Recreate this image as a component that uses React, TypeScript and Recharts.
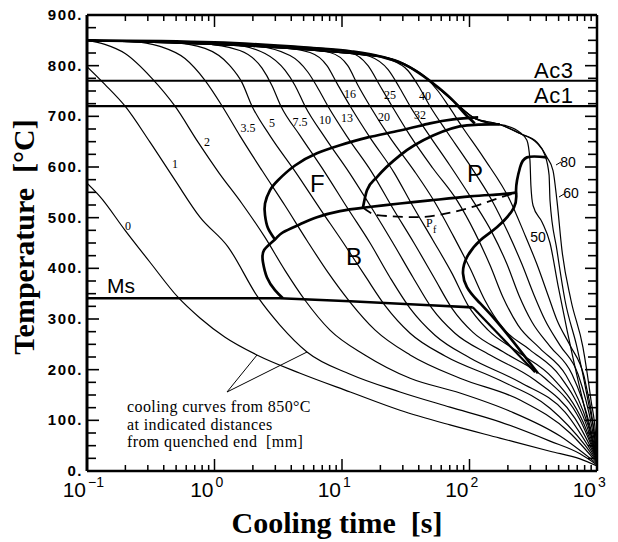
import React from "react"
import { LineChart, Line, XAxis, YAxis, ReferenceLine } from "recharts"

type Pt = { t: number; T: number }
const pts = (arr: number[][]): Pt[] => arr.map(([t, T]) => ({ t, T }))

// cooling curves, [time s, temperature °C], labelled by distance from quenched end (mm)
const curve0 = pts([[0.1, 568], [0.126, 542], [0.199, 475], [0.312, 412], [0.517, 343], [0.769, 302], [1.21, 264], [2.15, 229], [4.69, 193], [11.6, 156], [28.5, 120], [70.3, 91], [173, 65], [428, 39], [736, 24], [1000, 10]])
const curve1 = pts([[0.1, 798], [0.138, 763], [0.199, 720], [0.312, 649], [0.49, 574], [0.769, 501], [1.28, 442], [2.19, 343], [3.26, 288], [5.31, 235], [11.6, 191], [28.5, 156], [70.3, 126], [173, 97], [428, 59], [736, 34], [1000, 12]])
const curve2 = pts([[0.1, 850], [0.138, 842], [0.199, 824], [0.323, 775], [0.49, 720], [0.743, 649], [1.08, 589], [1.64, 528], [2.49, 461], [3.57, 396], [5.13, 337], [8.05, 278], [15.1, 229], [34.2, 183], [84.2, 154], [208, 118], [513, 69], [1000, 14]])
const curve3_5 = pts([[0.1, 850], [0.217, 848], [0.374, 838], [0.587, 814], [0.842, 771], [1.15, 720], [1.58, 662], [2.36, 593], [3.57, 524], [5.31, 455], [7.76, 392], [11.6, 333], [18.2, 278], [34.2, 229], [84.2, 183], [249, 140], [614, 75], [1000, 16]])
const curve5 = pts([[0.1, 850], [0.448, 846], [0.842, 834], [1.32, 800], [1.64, 767], [1.97, 720], [2.72, 662], [4.35, 589], [6.71, 518], [10.2, 451], [15.1, 386], [21.7, 327], [34.2, 272], [64.3, 227], [173, 179], [428, 124], [805, 51], [1000, 18]])
const curve7_5 = pts([[0.1, 850], [0.769, 844], [1.58, 830], [2.36, 795], [2.82, 761], [3.32, 720], [4.69, 662], [7.36, 589], [11.1, 518], [16.6, 450], [23.8, 382], [34.2, 321], [53.6, 268], [101, 223], [249, 175], [561, 116], [1000, 20]])
const curve10 = pts([[0.1, 850], [1.32, 842], [2.49, 824], [3.57, 791], [4.28, 761], [5.13, 720], [7.36, 658], [11.4, 589], [17.2, 518], [25.1, 450], [36.1, 382], [50.8, 321], [76.9, 272], [145, 229], [327, 179], [672, 104], [1000, 22]])
const curve13 = pts([[0.1, 850], [1.9, 840], [3.91, 820], [5.41, 787], [6.36, 759], [7.76, 720], [11.1, 658], [17.2, 589], [25.1, 518], [36.7, 450], [52.7, 382], [72.9, 321], [106, 274], [190, 233], [391, 183], [736, 101], [1000, 22]])
const curve16 = pts([[0.1, 850], [2.72, 838], [5.61, 826], [7.62, 800], [9.14, 765], [11.6, 720], [16.6, 658], [25.6, 589], [36.1, 522], [51.8, 455], [72.9, 390], [97.3, 327], [140, 278], [240, 235], [452, 183], [776, 97], [1000, 24]])
const curve20 = pts([[0.1, 850], [3.91, 836], [8.05, 826], [11.1, 800], [13.3, 762], [16.6, 720], [23.8, 658], [36.7, 593], [53.6, 530], [74.3, 465], [101, 400], [132, 337], [183, 282], [298, 239], [513, 187], [820, 93], [1000, 24]])
const curve25 = pts([[0.1, 850], [5.61, 836], [11.6, 826], [16, 800], [19.9, 760], [24.7, 720], [34.2, 662], [51.8, 597], [79.8, 534], [110, 471], [145, 406], [183, 343], [240, 288], [357, 242], [571, 189], [849, 91], [1000, 26]])
const curve32 = pts([[0.1, 850], [8.05, 832], [16.6, 818], [23, 792], [28.5, 755], [34.2, 720], [47.3, 666], [70.3, 603], [106, 534], [150, 471], [197, 408], [244, 347], [309, 294], [428, 246], [637, 191], [881, 89], [1000, 26]])
const curve40 = pts([[0.1, 850], [11.6, 828], [23.8, 812], [33, 790], [40.9, 755], [49, 720], [65.5, 672], [97.3, 609], [150, 534], [200, 471], [258, 408], [321, 347], [391, 298], [513, 248], [710, 191], [914, 85], [1000, 26]])
const curve45 = pts([[0.1, 850], [16.6, 822], [31.2, 803], [44.8, 778], [56.6, 750], [67.8, 722], [87.3, 680], [130, 617], [208, 534], [267, 471], [338, 408], [413, 347], [485, 298], [614, 248], [791, 187], [947, 81], [1000, 26]])
const curve50 = pts([[0.1, 850], [20, 818], [40, 786], [75, 730], [110, 696], [145, 686], [190, 682], [249, 668], [282, 653], [298, 613], [303, 564], [315, 524], [371, 491], [428, 450], [494, 367], [582, 278], [710, 179], [881, 81], [1000, 22]])
const curve60 = pts([[0.1, 850], [20, 818], [40, 786], [75, 730], [110, 696], [173, 684], [249, 666], [338, 647], [391, 623], [421, 584], [428, 534], [485, 436], [561, 337], [697, 244], [849, 140], [964, 61], [1000, 18]])
const curve80 = pts([[0.1, 850], [20, 818], [40, 786], [75, 730], [110, 696], [173, 684], [249, 666], [338, 649], [405, 619], [452, 593], [485, 534], [531, 436], [625, 337], [776, 244], [897, 140], [982, 61], [1000, 18]])

const coolingCurves = [curve0, curve1, curve2, curve3_5, curve5, curve7_5, curve10, curve13, curve16, curve20, curve25, curve32, curve40, curve45, curve50, curve60, curve80]

// transformation boundaries
const envelope = pts([[0.1, 850], [1, 846], [5, 836], [12, 828], [20, 818], [30, 804], [40, 786], [55, 760], [75, 730], [92, 705], [110, 686]])
const ferriteStart = pts([[2.98, 457], [2.62, 480], [2.49, 505], [2.49, 528], [2.72, 554], [3.15, 574], [4.28, 603], [6.36, 627], [9.64, 643], [15.7, 658], [28.5, 672], [49, 686], [74.3, 694], [117, 698]])
const bainiteStart = pts([[3.44, 341], [2.98, 357], [2.58, 382], [2.4, 412], [2.45, 436], [2.98, 457], [3.44, 471], [4.69, 487], [6.36, 501], [9.64, 513], [15.1, 520], [28.5, 528], [49, 534], [101, 542], [173, 546], [236, 550]])
const pearliteStart = pts([[14.6, 520], [15.7, 554], [18.8, 580], [28.5, 623], [51.8, 662], [95.5, 682], [145, 684], [173, 684]])
const finishLine = pts([[405, 619], [282, 619], [249, 599], [236, 574], [232, 550], [223, 520], [164, 481], [121, 455], [95.5, 422], [88.9, 390], [95.5, 363], [115, 337], [173, 288], [344, 193]])
const msLine = pts([[0.1, 341], [3.26, 341], [11.6, 335], [49, 327], [106, 323]])
const msEnd = pts([[106, 323], [327, 195]])
const pfLine = pts([[14.6, 520], [18.8, 505], [38.7, 501], [95.5, 518], [197, 544], [223, 548]])

const ac3 = 770
const ac1 = 720

const xTicks = [0.1, 0.2, 0.3, 0.4, 0.5, 0.6, 0.7, 0.8, 0.9, 1, 2, 3, 4, 5, 6, 7, 8, 9, 10, 20, 30, 40, 50, 60, 70, 80, 90, 100, 200, 300, 400, 500, 600, 700, 800, 900, 1000]
const yTicks = [0, 25, 50, 75, 100, 125, 150, 175, 200, 225, 250, 275, 300, 325, 350, 375, 400, 425, 450, 475, 500, 525, 550, 575, 600, 625, 650, 675, 700, 725, 750, 775, 800, 825, 850, 875, 900]

const curveLabels: [string, number, number][] = [
  ["0", 128, 230], ["1", 175, 168], ["2", 207, 146], ["3.5", 248, 132], ["5", 272, 127],
  ["7.5", 300, 126], ["10", 325, 124], ["13", 347, 122], ["16", 350, 98], ["20", 384, 121],
  ["25", 390, 99], ["32", 420, 119], ["40", 425, 100],
]
const bigLabels: [string, number, number][] = [["50", 538, 242], ["60", 571, 198], ["80", 568, 167]]

const SANS = "Liberation Sans, Arial, sans-serif"
const SERIF = "Liberation Serif, Times New Roman, serif"
const SP2 = "\u00a0\u00a0"

const isDecade = (v: number) => Math.abs(Math.log10(v) - Math.round(Math.log10(v))) < 1e-6

function BottomTick(props: any) {
  const { x, y, payload } = props
  const v = payload.value
  const major = isDecade(v)
  const exp = Math.round(Math.log10(v))
  return (
    <g>
      <line x1={x} x2={x} y1={y} y2={y - (major ? 12 : 6)} stroke="#000" strokeWidth={1.5} />
      {major && (
        <>
          <text x={x - 1} y={y + 26} textAnchor="end" fontSize={21} fontFamily={SANS}>10</text>
          <text x={x + 1} y={y + 16} fontSize={14} fontFamily={SANS}>{exp < 0 ? "\u2212" + -exp : exp}</text>
        </>
      )}
    </g>
  )
}

function TopTick(props: any) {
  const { x, y, payload } = props
  const major = isDecade(payload.value)
  return <line x1={x} x2={x} y1={y} y2={y + (major ? 12 : 6)} stroke="#000" strokeWidth={1.5} />
}

function LeftTick(props: any) {
  const { x, y, payload } = props
  const v = payload.value
  const major = v % 100 === 0
  return (
    <g>
      <line x1={x} x2={x + (major ? 12 : 9)} y1={y} y2={y} stroke="#000" strokeWidth={1.6} />
      {major && (
        <text x={x - 4} y={y + 5} textAnchor="end" fontSize={15} letterSpacing={1.5} fontWeight="bold" fontFamily={SANS}>{v}.</text>
      )}
    </g>
  )
}

function RightTick(props: any) {
  const { x, y, payload } = props
  const major = payload.value % 100 === 0
  return <line x1={x} x2={x - (major ? 12 : 9)} y1={y} y2={y} stroke="#000" strokeWidth={1.6} />
}

const W = 618
const H = 542

export default function App() {
  const axisLine = { stroke: "#000", strokeWidth: 2.5 }
  const thin = (d: Pt[], i: number) => (
    <Line key={"c" + i} data={d} dataKey="T" xAxisId="b" yAxisId="l" type="monotone" stroke="#000" strokeWidth={1.2} dot={false} activeDot={false} isAnimationActive={false} />
  )
  const bold = (key: string, d: Pt[], type: any, w = 2.7, dash?: string) => (
    <Line key={key} data={d} dataKey="T" xAxisId="b" yAxisId="l" type={type} stroke="#000" strokeWidth={w} strokeDasharray={dash} dot={false} activeDot={false} isAnimationActive={false} />
  )
  return (
    <div style={{ position: "absolute", left: 0, top: 0, width: W, height: H, background: "#fff" }}>
      <LineChart width={W} height={H} margin={{ top: 14, right: 20, bottom: 31, left: 27 }}>
        <XAxis xAxisId="b" dataKey="t" type="number" scale="log" domain={[0.1, 1000]} allowDataOverflow ticks={xTicks} interval={0} tick={BottomTick} tickLine={false} tickSize={0} tickMargin={0} height={40} axisLine={axisLine} />
        <XAxis xAxisId="top" orientation="top" dataKey="t" type="number" scale="log" domain={[0.1, 1000]} allowDataOverflow ticks={xTicks} interval={0} tick={TopTick} tickLine={false} tickSize={0} tickMargin={0} height={1} axisLine={axisLine} />
        <YAxis yAxisId="l" type="number" domain={[0, 900]} allowDataOverflow ticks={yTicks} interval={0} tick={LeftTick} tickLine={false} tickSize={0} tickMargin={0} width={60} axisLine={{ stroke: "#000", strokeWidth: 3 }} />
        <YAxis yAxisId="r" orientation="right" type="number" domain={[0, 900]} allowDataOverflow ticks={yTicks} interval={0} tick={RightTick} tickLine={false} tickSize={0} tickMargin={0} width={1} axisLine={axisLine} />
        <ReferenceLine xAxisId="b" yAxisId="l" y={ac3} stroke="#000" strokeWidth={2} />
        <ReferenceLine xAxisId="b" yAxisId="l" y={ac1} stroke="#000" strokeWidth={2.2} />
        {coolingCurves.map((c, i) => thin(c, i))}
        {bold("env", envelope, "monotone")}
        {bold("fs", ferriteStart, "natural")}
        {bold("bs", bainiteStart, "natural")}
        {bold("ps", pearliteStart, "monotone")}
        {bold("fin", finishLine, "natural")}
        {bold("ms", msLine, "linear", 2.6)}
        {bold("msend", msEnd, "linear", 2.2)}
        {bold("pf", pfLine, "monotone", 1.8, "10 6")}
      </LineChart>
      <svg width={W} height={H} style={{ position: "absolute", left: 0, top: 0, pointerEvents: "none" }}>
        {curveLabels.map(([s, x, y]) => (
          <text key={s} x={x} y={y} textAnchor="middle" fontSize={12} fontFamily={SERIF}>{s}</text>
        ))}
        {bigLabels.map(([s, x, y]) => (
          <text key={s} x={x} y={y} textAnchor="middle" fontSize={14} fontFamily={SANS}>{s}</text>
        ))}
        <line x1={556} y1={165} x2={561} y2={162} stroke="#000" strokeWidth={1} />
        <line x1={559} y1={197} x2={564} y2={194} stroke="#000" strokeWidth={1} />
        <text x={310} y={192} fontSize={24} fontFamily={SANS}>F</text>
        <text x={467} y={182} fontSize={24} fontFamily={SANS}>P</text>
        <text x={346} y={265} fontSize={24} fontFamily={SANS}>B</text>
        <text x={426} y={227} fontSize={12} fontFamily={SERIF}>P</text>
        <text x={433} y={233} fontSize={10} fontFamily={SERIF}>f</text>
        <text x={534} y={78} fontSize={22} letterSpacing={0.5} fontFamily={SANS}>Ac3</text>
        <text x={534} y={103} fontSize={22} letterSpacing={0.5} fontFamily={SANS}>Ac1</text>
        <text x={107} y={293} fontSize={21} fontFamily={SANS}>Ms</text>
        <line x1={227} y1={392} x2={257} y2={355} stroke="#000" strokeWidth={1} />
        <line x1={227} y1={392} x2={307} y2={352} stroke="#000" strokeWidth={1} />
        <g fontFamily={SERIF} fontSize={16} letterSpacing={0.4}>
          <text x={127} y={412}>cooling curves from 850°C</text>
          <text x={127} y={429.5}>at indicated distances</text>
          <text x={127} y={447}>{"from quenched end" + SP2 + "[mm]"}</text>
        </g>
        <text x={337} y={533} textAnchor="middle" fontSize={30} fontWeight="bold" fontFamily={SERIF}>{"Cooling time" + SP2 + "[s]"}</text>
        <text transform="translate(34,237) rotate(-90)" textAnchor="middle" fontSize={30} fontWeight="bold" fontFamily={SERIF}>{"Temperature" + SP2 + "[°C]"}</text>
      </svg>
    </div>
  )
}
